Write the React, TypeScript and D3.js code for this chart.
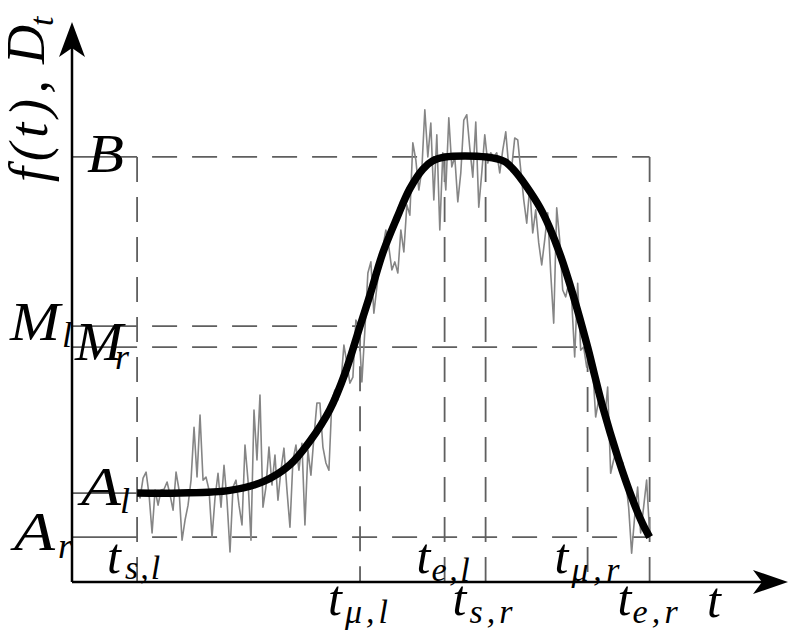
import React from "react";
import * as d3 from "d3";

const W = 791;
const H = 639;

// Fitted curve f(t)
const CURVE_T = [0, 8.4, 18.1, 24.6, 29.8, 33.7, 37.6, 40.55, 43.5, 45.4, 47.95, 50.7, 53.2, 55.75, 57.7, 60.0, 68.2, 71.7, 73.7, 76.0, 78.6, 80.5, 82.5, 85.0, 87.9, 89.3, 90.8, 93.8, 96.7, 98.6, 100];
const CURVE_F = [0.116, 0.116, 0.123, 0.146, 0.19, 0.252, 0.335, 0.43, 0.555, 0.635, 0.748, 0.84, 0.916, 0.968, 0.99, 1.0, 1.0, 0.988, 0.963, 0.922, 0.867, 0.814, 0.745, 0.64, 0.5, 0.424, 0.345, 0.21, 0.098, 0.036, 0];

// Observed series D_t, evenly sampled from t_s,l to t_e,r
const OBS_START = 0;
const OBS_END = 100;
const OBS_D = [
  0.124, 0.103, 0.155, 0.171, 0.111, 0.011, 0.124, 0.084, 0.124, 0.126,
  0.145, 0.111, 0.071, 0.171, 0.124, -0.008, 0.045, 0.084, 0.150, 0.289,
  0.158, 0.321, 0.150, 0.158, 0.124, 0.0, 0.103, 0.168, 0.079, 0.189,
  0.097, -0.039, 0.132, 0.150, 0.084, 0.032, 0.242, 0.150, -0.008, 0.334,
  0.203, 0.374, 0.079, 0.132, 0.237, 0.137, 0.216, 0.097, 0.176, 0.234,
  0.124, 0.026, 0.203, 0.242, 0.176, 0.247, 0.032, 0.229, 0.163, 0.263,
  0.353, 0.353, 0.237, 0.195, 0.176, 0.361, 0.387, 0.361, 0.405, 0.505,
  0.458, 0.405, 0.421, 0.571, 0.553, 0.408, 0.545, 0.695, 0.724, 0.589,
  0.658, 0.724, 0.763, 0.808, 0.763, 0.703, 0.724, 0.695, 0.808, 0.750,
  0.874, 0.847, 1.037, 0.992, 0.913, 0.966, 1.124, 1.000, 1.089, 0.887,
  1.058, 0.808, 1.011, 0.913, 1.103, 0.974, 1.000, 0.882, 0.958, 1.097,
  1.111, 1.024, 0.947, 1.092, 0.868, 0.958, 1.058, 0.984, 1.011, 1.000,
  1.011, 0.958, 1.018, 1.066, 0.974, 0.974, 1.050, 1.045, 0.966, 0.887,
  0.826, 0.921, 0.800, 0.861, 0.774, 0.716, 0.782, 0.853, 0.695, 0.563,
  0.866, 0.782, 0.650, 0.632, 0.668, 0.624, 0.474, 0.668, 0.492, 0.500,
  0.447, 0.484, 0.447, 0.316, 0.361, 0.374, 0.308, 0.395, 0.168, 0.203,
  0.229, 0.189, 0.197, 0.150, 0.079, -0.042, 0.053, 0.132, 0.011, 0.079,
  0.150, 0.011,
];

// Time markers
const T_SUBS = ["s,l", "μ,l", "e,l", "s,r", "μ,r", "e,r"];
const T_VALUES = [0, 43.5, 60, 68, 87.9, 100];
const T_GUIDE_TOP = [1, 0.555, 1, 1, 0.5, 1];

// Levels
const LEVEL_NAMES = ["B", "M", "M", "A", "A"];
const LEVEL_SUBS = ["", "l", "r", "l", "r"];
const LEVEL_VALUES = [1, 0.555, 0.5, 0.116, 0];
const LEVEL_END_T = [100, 43.5, 87.9, 0, 100];

const T_MIN = -12.7;
const T_MAX = 127;
const F_MIN = -0.118;
const F_MAX = 1.355;

const FONT = "'Liberation Serif', 'Times New Roman', serif";

export default function App() {
  const x = d3.scaleLinear().domain([T_MIN, T_MAX]).range([72, 788]);
  const y = d3.scaleLinear().domain([F_MIN, F_MAX]).range([582, 22]);

  const obsPts: [number, number][] = OBS_D.map((d, i) => [
    OBS_START + (i * (OBS_END - OBS_START)) / (OBS_D.length - 1),
    d,
  ]);
  const curvePts: [number, number][] = CURVE_T.map((t, i) => [t, CURVE_F[i]]);

  const line = d3
    .line<[number, number]>()
    .x((d) => x(d[0]))
    .y((d) => y(d[1]));
  const smooth = d3
    .line<[number, number]>()
    .x((d) => x(d[0]))
    .y((d) => y(d[1]))
    .curve(d3.curveCatmullRom.alpha(0.5));

  const dash = "25 15";
  const guideColor = "#5f5f5f";

  const x0 = x(T_MIN);
  const y0 = y(F_MIN);
  const xTip = x(T_MAX);
  const yTip = y(F_MAX);

  // arrowheads (stealth-like)
  const arrowY = `M${x0},${yTip} L${x0 + 13},${yTip + 35} L${x0},${yTip + 26} L${x0 - 13},${yTip + 35} Z`;
  const arrowX = `M${xTip},${y0} L${xTip - 35},${y0 - 12} L${xTip - 26},${y0} L${xTip - 35},${y0 + 12} Z`;

  // label placement
  const levelLabel = [
    { bx: 87, by: 172, bl: 37, sx: 0, sy: 0 },
    { bx: 10, by: 340, bl: 50, sx: 62, sy: 347 },
    { bx: 75, by: 360, bl: 48, sx: 115, sy: 369 },
    { bx: 81, by: 505, bl: 40, sx: 120, sy: 513 },
    { bx: 14, by: 550, bl: 41, sx: 58, sy: 558 },
  ];
  const tLabel = [
    { dx: -30, by: 573, sdx: -12, sby: 579, sl: 35 },
    { dx: -32, by: 615, sdx: -15, sby: 623, sl: 43 },
    { dx: -28, by: 573, sdx: -13, sby: 581, sl: 38 },
    { dx: -33, by: 615, sdx: -16, sby: 623, sl: 43 },
    { dx: -33, by: 573, sdx: -16, sby: 581, sl: 48 },
    { dx: -32, by: 615, sdx: -17, sby: 623, sl: 45 },
  ];

  return (
    <svg
      width={W}
      height={H}
      style={{ position: "absolute", left: 0, top: 0, background: "#fff" }}
      fontFamily={FONT}
    >
      <rect x={0} y={0} width={W} height={H} fill="#fff" />
      {/* horizontal guides */}
      {LEVEL_VALUES.map((v, i) => (
        <g key={"h" + i} stroke={guideColor} strokeWidth={1.8} fill="none">
          <line x1={x0} x2={x(0)} y1={y(v)} y2={y(v)} />
          {LEVEL_END_T[i] > 0 && (
            <line
              x1={x(0)}
              x2={x(LEVEL_END_T[i])}
              y1={y(v)}
              y2={y(v)}
              strokeDasharray={dash}
              strokeDashoffset={25}
            />
          )}
        </g>
      ))}
      {/* vertical guides */}
      {T_VALUES.map((t, i) => (
        <line
          key={"v" + i}
          x1={x(t)}
          x2={x(t)}
          y1={y(T_GUIDE_TOP[i])}
          y2={y0}
          stroke={guideColor}
          strokeWidth={1.8}
          strokeDasharray={dash}
        />
      ))}
      {/* observed series */}
      <path d={line(obsPts) || ""} fill="none" stroke="#858585" strokeWidth={1.6} strokeLinejoin="round" />
      {/* fitted curve */}
      <path d={smooth(curvePts) || ""} fill="none" stroke="#000" strokeWidth={7.5} strokeLinejoin="round" />
      {/* axes */}
      <line x1={x0} x2={x0} y1={y0} y2={yTip + 26} stroke="#000" strokeWidth={2.5} />
      <line x1={x0} x2={xTip - 26} y1={y0} y2={y0} stroke="#000" strokeWidth={2.5} />
      <path d={arrowY} fill="#000" />
      <path d={arrowX} fill="#000" />

      {/* level labels */}
      {LEVEL_NAMES.map((n, i) => (
        <g key={"ll" + i} fontStyle="italic">
          <text
            x={levelLabel[i].bx}
            y={levelLabel[i].by}
            fontSize={54}
            textLength={levelLabel[i].bl}
            lengthAdjust="spacingAndGlyphs"
          >
            {n}
          </text>
          {LEVEL_SUBS[i] && (
            <text x={levelLabel[i].sx} y={levelLabel[i].sy} fontSize={36}>
              {LEVEL_SUBS[i]}
            </text>
          )}
        </g>
      ))}

      {/* time labels */}
      {T_SUBS.map((s, i) => (
        <g key={"tl" + i} fontStyle="italic">
          <text x={x(T_VALUES[i]) + tLabel[i].dx} y={tLabel[i].by} fontSize={50}>
            t
          </text>
          <text
            x={x(T_VALUES[i]) + tLabel[i].sdx}
            y={tLabel[i].sby}
            fontSize={34}
            textLength={tLabel[i].sl}
            lengthAdjust="spacing"
          >
            {s}
          </text>
        </g>
      ))}
      <text x={707} y={617} fontSize={50} fontStyle="italic">
        t
      </text>

      {/* y axis title */}
      <g transform="rotate(-90)" fontStyle="italic">
        <text x={-182} y={47} fontSize={54} textLength={102} lengthAdjust="spacing">
          f(t),
        </text>
        <text x={-64} y={44} fontSize={54}>
          D
        </text>
        <text x={-26} y={53} fontSize={34}>
          t
        </text>
      </g>
    </svg>
  );
}
